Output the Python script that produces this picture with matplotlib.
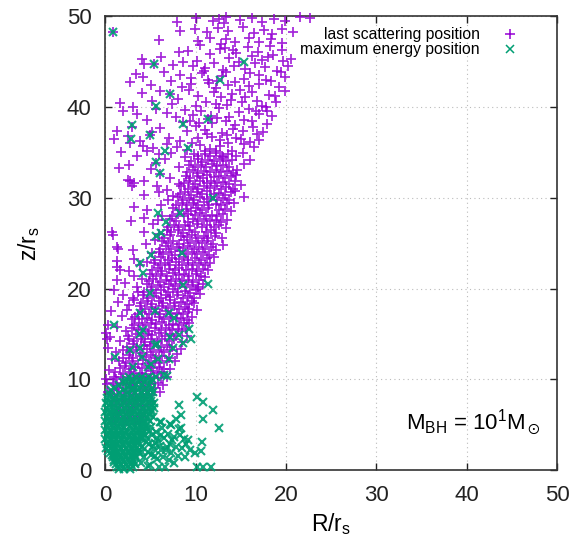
import matplotlib
matplotlib.use("Agg")
import matplotlib.pyplot as plt

plt.rcParams['font.family'] = ['Liberation Sans', 'DejaVu Sans']
plt.rcParams['mathtext.fontset'] = 'custom'
plt.rcParams['mathtext.rm'] = 'Liberation Sans'
plt.rcParams['mathtext.it'] = 'Liberation Sans:italic'
plt.rcParams['mathtext.fallback'] = 'stixsans'

# ---------------- data ----------------
# last scattering position, dense band (R, z)
last_core = [
    (1.1,5.3),(1.9,5.0),(2.4,5.4),(3.3,5.1),(3.8,5.35),
    (0.8,5.7),(1.4,6.0),(2.2,5.75),(2.9,5.95),(3.5,5.6),(4.1,5.9),
    (1.2,6.35),(1.6,6.65),(2.5,6.4),(3.0,6.7),(3.9,6.3),(4.4,6.6),
    (0.7,7.2),(1.5,6.95),(2.0,7.25),(2.8,7.0),(3.4,7.3),(4.1,7.05),(4.7,7.2),
    (1.0,7.6),(1.8,7.85),(2.3,7.55),(3.1,7.8),(3.6,7.6),(4.3,7.9),(5.0,7.65),
    (0.6,8.4),(1.3,8.15),(2.1,8.45),(2.6,8.2),(3.3,8.35),(3.8,8.1),(4.6,8.4),(5.2,8.25),
    (1.0,8.8),(1.5,9.05),(2.3,8.75),(2.9,9.0),(3.4,8.85),(4.2,9.1),(4.8,8.8),(5.5,9.0),
    (0.8,9.6),(1.3,9.35),(2.0,9.65),(2.7,9.4),(3.2,9.55),(3.9,9.3),(4.4,9.7),(5.1,9.45),(5.8,9.6),
    (1.2,10.0),(1.7,10.25),(2.4,9.95),(3.0,10.2),(3.7,10.05),(4.1,10.3),(4.9,10.0),(5.4,10.25),(6.1,10.1),
    (1.1,10.85),(1.9,10.6),(2.6,10.8),(3.2,10.55),(3.8,10.75),(4.5,10.6),(5.0,10.9),(5.7,10.65),(6.3,10.8),
    (1.6,11.2),(2.2,11.45),(2.8,11.15),(3.3,11.4),(4.0,11.25),(4.7,11.5),(5.3,11.2),(5.9,11.35),(6.5,11.15),
    (1.5,12.05),(2.3,11.8),(2.9,12.0),(3.6,11.75),(4.2,12.1),(4.8,11.85),(5.5,12.05),(6.0,11.8),(6.8,12.0),
    (1.9,12.4),(2.6,12.65),(3.1,12.35),(3.8,12.6),(4.5,12.45),(5.1,12.7),(5.6,12.4),(6.3,12.55),(7.0,12.35),
    (2.0,13.25),(2.7,13.0),(3.4,13.2),(4.0,12.95),(4.6,13.3),(5.3,13.05),(5.9,13.25),(6.5,13.0),(7.2,13.2),
    (2.4,13.6),(3.0,13.85),(3.5,13.55),(4.3,13.8),(4.9,13.65),(5.4,13.9),(6.1,13.6),(6.8,13.75),(7.4,13.55),
    (2.6,14.45),(3.2,14.2),(3.9,14.4),(4.4,14.15),(5.1,14.5),(5.7,14.25),(6.3,14.45),(7.0,14.2),(7.6,14.4),
    (2.5,14.8),(3.4,15.05),(4.0,14.75),(4.7,15.0),(5.2,14.85),(5.9,15.1),(6.6,14.8),(7.1,14.95),(7.8,14.75),
    (2.9,15.65),(3.6,15.4),(4.2,15.6),(4.8,15.35),(5.5,15.7),(6.1,15.45),(6.7,15.65),(7.4,15.4),(8.0,15.6),(8.5,15.35),
    (3.2,16.0),(3.7,16.25),(4.4,15.95),(5.1,16.2),(5.6,16.05),(6.3,16.3),(7.0,16.0),(7.5,16.15),(8.2,15.95),(8.7,16.2),
    (3.3,16.85),(4.0,16.6),(4.6,16.8),(5.2,16.55),(5.9,16.9),(6.5,16.65),(7.1,16.85),(7.8,16.6),(8.4,16.8),(9.0,16.55),
    (3.6,17.2),(4.1,17.45),(4.8,17.15),(5.5,17.4),(6.0,17.25),(6.7,17.5),(7.3,17.2),(7.9,17.35),(8.6,17.15),(9.1,17.4),
    (3.8,18.05),(4.4,17.8),(5.0,18.0),(5.6,17.75),(6.3,18.1),(6.9,17.85),(7.6,18.05),(8.1,17.8),(8.8,18.0),(9.3,17.75),
    (3.9,18.4),(4.6,18.65),(5.2,18.35),(5.9,18.6),(6.4,18.45),(7.1,18.7),(7.7,18.4),(8.4,18.55),(9.0,18.35),(9.6,18.6),
    (4.2,19.25),(4.7,19.0),(5.4,19.2),(6.1,18.95),(6.7,19.3),(7.2,19.05),(7.9,19.25),(8.6,19.0),(9.2,19.2),(9.8,18.95),
    (4.3,19.6),(5.0,19.85),(5.6,19.55),(6.2,19.8),(6.9,19.65),(7.5,19.9),(8.0,19.6),(8.8,19.75),(9.4,19.55),(10.0,19.8),
    (4.6,20.45),(5.2,20.2),(5.8,20.4),(6.5,20.15),(7.0,20.5),(7.7,20.25),(8.3,20.45),(8.9,20.2),(9.6,20.4),(10.2,20.15),
    (4.8,20.8),(5.3,21.05),(6.0,20.75),(6.7,21.0),(7.3,20.85),(7.8,21.1),(8.5,20.8),(9.2,20.95),(9.7,20.75),(10.4,21.0),
    (4.9,21.65),(5.6,21.4),(6.2,21.6),(6.8,21.35),(7.5,21.7),(8.1,21.45),(8.7,21.65),(9.3,21.4),(10.0,21.6),(10.6,21.35),
    (5.2,22.0),(5.8,22.25),(6.3,21.95),(7.0,22.2),(7.7,22.05),(8.2,22.3),(8.9,22.0),(9.6,22.15),(10.1,21.95),(10.8,22.2),
    (5.4,22.85),(6.0,22.6),(6.6,22.8),(7.2,22.55),(7.8,22.9),(8.5,22.65),(9.1,22.85),(9.7,22.6),(10.4,22.8),(11.0,22.55),
    (5.5,23.2),(6.2,23.45),(6.9,23.15),(7.4,23.4),(8.1,23.25),(8.7,23.5),(9.2,23.2),(9.9,23.35),(10.6,23.15),(11.2,23.4),
    (5.9,24.05),(6.4,23.8),(7.0,24.0),(7.7,23.75),(8.3,24.1),(8.9,23.85),(9.6,24.05),(10.1,23.8),(10.8,24.0),(11.5,23.75),
    (6.0,24.4),(6.7,24.65),(7.3,24.35),(7.9,24.6),(8.6,24.45),(9.1,24.7),(9.8,24.4),(10.4,24.55),(11.0,24.35),(11.7,24.6),
    (6.3,25.25),(6.9,25.0),(7.5,25.2),(8.2,24.95),(8.7,25.3),(9.4,25.05),(10.0,25.25),(10.7,25.0),(11.3,25.2),(11.9,24.95),
    (6.5,25.6),(7.2,25.85),(8.4,25.8),(9.0,25.65),(9.6,25.9),(10.3,25.6),(10.9,25.75),(11.4,25.55),(12.1,25.8),
    (6.8,26.45),(7.3,26.2),(8.0,26.4),(8.6,26.15),(9.3,26.5),(9.9,26.25),(11.1,26.2),(11.7,26.4),(12.3,26.15),
    (6.9,26.8),(7.6,27.05),(8.2,26.75),(8.8,27.0),(9.4,26.85),(10.1,27.1),(10.7,26.8),(11.3,26.95),(12.0,26.75),(12.6,27.0),
    (7.2,27.65),(7.8,27.4),(9.1,27.35),(9.7,27.7),(10.2,27.45),(10.9,27.65),(11.6,27.4),(12.2,27.6),(12.8,27.35),
    (7.4,28.0),(8.0,28.25),(8.7,27.95),(9.2,28.2),(9.9,28.05),(10.5,28.3),(11.1,28.0),(11.8,28.15),(12.4,27.95),(13.0,28.2),
    (7.5,28.85),(8.2,28.6),(8.9,28.8),(9.5,28.55),(10.0,28.9),(10.7,28.65),(11.4,28.85),(12.6,28.6),(13.2,28.8),
    (7.8,29.2),(8.5,29.45),(9.0,29.15),(9.7,29.4),(10.3,29.25),(10.9,29.5),(11.5,29.2),(12.2,29.35),(12.8,29.15),(13.5,29.4),
    (8.0,30.05),(8.6,29.8),(9.3,30.0),(9.8,29.75),(10.5,30.1),(11.2,29.85),(11.7,30.05),(12.4,29.8),(13.0,30.0),(13.7,29.75),
    (8.3,30.4),(8.8,30.65),(9.5,30.35),(10.1,30.6),(10.7,30.45),(11.3,30.7),(12.0,30.4),(12.6,30.55),(13.2,30.35),(13.9,30.6),
    (8.4,31.25),(9.1,31.0),(9.7,31.2),(10.3,30.95),(10.9,31.3),(11.6,31.05),(12.1,31.25),(12.8,31.0),(13.4,31.2),(14.1,30.95),
    (8.7,31.6),(9.3,31.85),(9.9,31.55),(10.5,31.8),(11.2,31.65),(11.7,31.9),(12.4,31.6),(13.0,31.75),(13.7,31.55),(14.3,31.8),
    (8.9,32.45),(9.4,32.2),(10.1,32.4),(10.8,32.15),(11.3,32.5),(12.0,32.25),(12.6,32.45),(13.2,32.2),(13.9,32.4),
    (9.0,32.8),(9.7,33.05),(10.3,32.75),(10.9,33.0),(11.6,32.85),(12.2,33.1),(12.8,32.8),(13.5,32.95),(14.1,32.75),
    (9.3,33.65),(9.9,33.4),(10.6,33.6),(11.1,33.35),(11.8,33.7),(12.4,33.45),(13.0,33.65),(13.7,33.4),
    (9.5,34.0),(10.2,34.25),(10.7,33.95),(11.4,34.2),(12.0,34.05),(12.7,34.3),(13.3,34.0),(14.0,34.15),
    (9.8,34.85),(10.3,34.6),(11.0,34.8),(11.6,34.55),(12.3,34.9),(12.9,34.65),(13.6,34.85),
]

# last scattering position, scattered points (R, z)
last_sparse = [
    (7.9,49.4),(10.0,49.8),(11.9,49.5),(12.6,49.7),(13.1,49.2),(13.4,49.9),(14.9,49.6),(16.2,49.8),
    (17.3,49.3),(18.7,49.7),(19.9,49.5),(21.5,49.9),(22.6,49.8),
    (0.8,48.3),(8.3,48.4),(9.9,48.6),(11.2,48.2),(12.5,48.7),(13.6,48.4),(15.2,48.8),(16.5,48.1),
    (17.6,48.5),(18.5,48.0),(19.6,48.6),(20.8,48.3),
    (5.9,47.4),(10.3,47.3),(11.6,47.6),(13.3,47.5),(14.4,47.1),(15.9,47.6),(17.0,47.2),(18.3,47.5),(19.6,47.0),
    (8.1,46.0),(9.1,46.2),(10.5,46.8),(12.7,46.4),(12.8,46.9),(14.1,46.3),(15.8,46.6),(16.9,46.1),(18.2,46.7),(19.5,46.3),
    (4.1,45.3),(10.1,45.1),(11.6,45.8),(13.7,45.4),(14.8,45.0),(16.2,45.6),(17.3,45.2),(18.6,45.7),(19.7,45.1),(20.6,45.3),
    (4.3,44.7),(5.4,44.7),(7.5,44.6),(8.6,44.9),(11.0,44.3),(12.0,44.8),(13.0,44.1),(14.2,44.5),(15.5,44.2),
    (16.6,44.8),(17.7,44.4),(19.0,44.0),
    (3.4,43.6),(4.2,43.3),(6.5,43.8),(9.5,43.2),(10.7,43.7),(12.9,43.4),(13.3,43.9),(15.3,43.1),(17.0,43.5),(19.9,43.3),
    (2.7,42.7),(5.0,42.4),(7.3,42.9),(8.5,42.2),(11.5,42.6),(12.3,42.1),(14.4,42.8),(15.9,42.3),(17.0,42.5),
    (18.3,42.9),(19.2,42.2),
    (4.0,41.5),(6.0,41.8),(7.2,41.4),(9.3,41.9),(10.2,41.2),(12.0,41.6),(12.8,41.1),(16.2,41.7),(18.1,41.3),
    (19.9,41.8),(14.0,41.4),
    (1.6,40.4),(3.1,40.0),(5.2,40.7),(7.4,40.3),(8.0,40.9),(11.1,40.5),(13.5,40.2),(13.9,40.8),(15.1,40.6),
    (17.3,40.1),(18.9,40.6),
    (2.0,39.6),(3.5,39.2),(5.6,39.8),(6.8,39.3),(8.8,39.7),(9.7,39.1),(10.6,39.5),(12.6,39.9),(14.8,39.4),
    (15.9,39.8),(17.0,39.2),(17.9,39.6),
    (4.6,38.6),(7.8,38.9),(8.6,38.3),(11.4,38.7),(11.8,38.2),(12.4,38.8),(13.3,38.4),(13.7,38.9),(16.2,38.5),(17.9,38.1),
    (1.3,37.4),(2.9,37.8),(5.2,37.2),(6.0,37.7),(9.0,37.3),(10.0,37.9),(11.0,37.5),(12.9,37.1),(14.1,37.6),
    (15.2,37.3),(16.3,37.8),(17.4,37.2),
    (1.0,36.5),(2.5,36.8),(3.8,36.3),(4.9,36.9),(7.0,36.6),(8.3,36.2),(11.8,36.7),(12.7,36.4),(13.5,36.9),
    (15.0,36.5),(16.0,36.1),
    (2.7,36.0),(4.2,35.7),(5.3,35.5),(6.8,35.9),(7.9,35.6),(9.0,35.3),(10.5,35.8),(11.6,35.4),(12.7,35.7),
    (14.0,35.2),(16.5,35.6),(15.3,35.9),
    (1.7,35.0),(3.5,34.6),(4.6,35.1),(5.9,34.8),(6.6,34.3),(7.3,34.9),(8.8,34.5),(14.5,34.6),(16.0,34.2),(15.2,34.9),
    (1.5,33.3),(2.6,33.6),(5.0,33.2),(5.6,33.8),(8.2,33.4),(14.6,33.1),(15.4,33.7),
    (2.5,32.0),(3.2,31.6),(4.3,31.8),(5.7,31.3),(6.0,32.6),(7.2,32.2),(8.2,31.5),(14.5,32.5),(15.0,31.4),
    (2.7,31.9),(2.9,31.3),
    (4.3,30.3),(5.9,30.6),(6.8,30.9),(7.5,30.2),(14.4,30.7),(15.3,30.1),
    (3.2,29.0),(4.6,28.7),(6.2,29.2),(6.9,29.7),(14.2,29.4),(13.9,28.5),
    (2.8,27.4),(4.3,27.8),(5.3,27.1),(5.8,27.6),(6.3,28.0),(13.5,27.6),(13.3,26.7),
    (0.7,26.2),(0.8,25.9),(4.3,26.2),(5.9,26.0),(5.5,25.4),(12.9,25.6),(13.0,24.8),
    (1.3,24.6),(1.4,24.4),(3.0,24.3),(4.5,24.9),(5.2,23.9),(12.3,24.2),(12.0,23.5),
    (1.3,23.0),(3.2,23.3),(4.6,22.9),(1.3,22.4),(3.8,22.6),(11.6,22.8),(11.4,22.0),
    (1.6,22.1),(2.6,21.9),(3.2,21.4),(1.3,21.0),(2.2,20.6),(3.5,20.2),(4.1,21.1),(11.0,21.3),(10.8,20.5),
    (0.9,19.8),(2.0,19.3),(3.0,19.0),(3.6,19.6),(10.5,19.4),(10.2,20.0),
    (1.4,18.5),(2.6,18.2),(3.2,18.7),(9.8,18.4),(10.1,17.6),
    (0.6,17.5),(1.8,17.0),(2.9,16.6),(2.4,17.6),(9.6,16.9),(9.3,16.2),
    (0.3,16.0),(1.3,15.8),(2.3,15.3),(0.1,15.1),(8.9,15.6),(9.0,14.8),
    (0.5,14.7),(1.6,14.2),(0.2,14.5),(8.5,14.1),(8.4,13.4),
    (0.3,13.5),(1.2,13.0),(0.7,12.3),(7.9,12.8),(7.7,12.0),
    (0.4,11.0),(0.9,10.3),(0.1,10.0),(7.2,11.1),(6.8,10.3),
    (0.2,9.5),(6.4,9.4),(6.0,8.6),(0.3,8.6),
    (10.9,44.0),(11.4,43.0),(12.4,42.9),(13.6,42.4),(14.9,41.9),(15.5,41.1),(16.8,40.7),(17.8,40.0),
    (12.2,40.3),(10.0,40.1),(9.4,38.5),(10.4,38.2),(14.3,38.0),(15.4,38.6),(16.7,39.5),(18.5,39.0),
    (11.3,37.0),(13.6,36.0),(14.5,36.6),(17.0,36.4),(10.2,36.6),(9.6,36.0),(11.0,35.2),(12.3,35.1),
    (13.0,34.5),(16.8,37.0),(18.8,41.2),(19.4,43.8),(20.2,44.5),(18.0,45.5),(14.5,45.9),(13.2,46.5),
    (16.0,43.7),(17.8,43.0),(11.7,39.0),(9.5,42.5),(8.3,43.5),(6.2,45.5),(9.7,44.5),
]

# maximum energy position, dense blob near the origin: rows of (z, [R ...])
maxE_blob_rows = [
    (10.3, [2.6, 3.4, 4.1, 4.8, 5.6]),
    (10.0, [2.3, 3.0, 3.8, 4.5, 5.2]),
    (9.7, [2.0, 2.9, 3.6, 4.3, 5.0]),
    (9.4, [1.5, 2.7, 3.4, 4.1, 4.8]),
    (9.1, [0.9, 2.4, 3.1, 3.8, 4.5, 5.2]),
    (8.8, [0.6, 1.9, 2.9, 3.6, 4.3, 5.0]),
    (8.5, [0.4, 1.5, 2.6, 3.3, 4.0, 4.7]),
    (8.2, [0.5, 1.2, 2.0, 2.8, 3.5, 4.2, 4.9]),
    (7.9, [0.2, 0.9, 1.7, 2.4, 3.0, 3.7, 4.4, 5.1]),
    (7.6, [0.3, 1.0, 1.6, 2.3, 3.0, 3.7, 4.3, 5.0]),
    (7.4, [0.1, 0.6, 1.3, 1.9, 2.7, 3.3, 4.0, 4.7, 5.4]),
    (7.15, [0.4, 1.0, 1.7, 2.4, 3.1, 3.8, 4.5, 5.2]),
    (6.9, [0.2, 0.8, 1.5, 2.2, 2.8, 3.5, 4.2, 4.9]),
    (6.65, [0.3, 1.0, 1.7, 2.3, 3.0, 3.6, 4.3, 5.0]),
    (6.4, [0.0, 0.5, 1.1, 1.8, 2.5, 3.1, 3.8, 4.4, 5.1]),
    (6.15, [0.4, 1.0, 1.6, 2.3, 2.9, 3.6, 4.2, 4.9]),
    (5.9, [0.2, 0.8, 1.4, 2.1, 2.7, 3.3, 4.0, 4.6, 5.3]),
    (5.65, [0.3, 1.0, 1.6, 2.2, 2.9, 3.5, 4.1, 4.7]),
    (5.4, [0.0, 0.5, 1.2, 1.8, 2.4, 3.0, 3.7, 4.3, 4.9]),
    (5.15, [0.4, 1.0, 1.7, 2.3, 2.9, 3.6, 4.2]),
    (4.9, [0.2, 0.8, 1.4, 2.0, 2.7, 3.3, 3.9, 4.5]),
    (4.65, [0.3, 0.9, 1.5, 2.1, 2.8, 3.4, 4.0]),
    (4.4, [0.0, 0.5, 1.1, 1.7, 2.3, 3.0, 3.6, 4.2]),
    (4.15, [0.4, 1.0, 1.6, 2.2, 2.9, 3.5, 4.1]),
    (3.9, [0.2, 0.8, 1.4, 2.0, 2.6, 3.2, 3.8, 4.4]),
    (3.65, [0.3, 0.9, 1.5, 2.1, 2.7, 3.3, 3.9]),
    (3.4, [0.0, 0.5, 1.1, 1.7, 2.3, 2.9, 3.5, 4.1]),
    (3.15, [0.4, 1.0, 1.6, 2.2, 2.9, 3.5]),
    (2.9, [0.2, 0.8, 1.3, 2.0, 2.6, 3.2, 3.8]),
    (2.65, [0.4, 0.9, 1.5, 2.1, 2.7, 3.3]),
    (2.4, [0.1, 0.6, 1.1, 1.7, 2.3, 2.9, 3.5]),
    (2.15, [0.3, 0.8, 1.3, 1.9, 2.5, 3.1, 3.6]),
    (1.9, [0.5, 0.9, 1.4, 2.0, 2.6, 3.2, 3.7]),
    (1.65, [0.7, 1.1, 1.6, 2.2, 2.8, 3.3]),
    (1.4, [0.8, 1.2, 1.7, 2.3, 2.9, 3.4]),
    (1.15, [0.9, 1.4, 1.9, 2.5, 3.1]),
    (0.9, [1.0, 1.5, 2.1, 2.7, 3.2]),
    (0.65, [1.2, 1.7, 2.3, 2.8, 3.3]),
    (0.4, [1.3, 1.9, 2.5, 3.0]),
    (0.15, [1.5, 2.1, 2.7]),
]

# maximum energy position, lobe and scattered points (R, z)
maxE_sparse = [
    (3.8,4.9),(4.4,5.2),(5.0,4.8),(5.6,4.2),(6.3,4.6),(6.9,4.0),(7.6,3.7),(8.3,3.9),(8.9,2.9),
    (3.9,3.8),(4.6,3.5),(5.2,3.9),(5.8,3.2),(6.5,3.5),(7.1,2.9),(7.8,2.6),(8.5,2.4),(9.4,2.2),
    (4.1,2.6),(4.8,2.9),(5.4,2.3),(6.0,2.7),(6.7,2.2),(7.3,1.9),(8.0,1.6),(8.8,1.4),
    (4.3,1.5),(5.1,1.7),(5.7,1.2),(6.4,1.5),(7.0,1.1),(7.6,0.8),(3.9,0.8),(4.7,0.5),(5.9,0.3),
    (6.2,3.9),(7.4,3.3),(5.5,3.0),(4.9,4.3),(3.6,3.0),(4.0,2.0),(9.9,1.9),(8.7,3.4),
    (4.5,3.1),(5.3,2.7),(6.1,2.2),(4.7,2.0),(5.5,1.6),(6.8,2.6),(4.2,4.1),(5.7,3.6),
    (10.1,8.1),(10.8,7.5),(11.9,6.6),(10.8,5.6),(12.6,4.7),(8.1,7.2),(8.4,6.1),(7.8,5.6),(6.1,5.3),
    (7.3,5.0),(8.4,4.6),(9.2,3.3),(10.7,3.1),(10.6,2.1),(5.4,6.9),(6.5,10.5),(10.1,0.4),(10.8,0.4),
    (11.7,0.3),(4.9,0.6),(6.6,0.4),(4.6,4.5),(8.1,4.5),(7.1,5.1),(6.0,5.3),
    (3.8,15.0),(2.7,13.2),(5.7,13.9),(7.0,12.3),(5.1,11.7),(6.8,10.4),(2.3,9.7),(3.1,8.8),(5.3,8.6),(7.1,14.7),
    (4.2,21.7),(11.4,20.5),(8.6,20.4),(4.9,19.5),(3.8,17.3),(5.5,17.5),(7.0,17.3),(7.6,16.8),(0.9,16.0),
    (4.2,15.4),(9.3,15.6),(9.5,14.5),(8.2,14.9),(8.6,14.0),(5.5,13.8),(3.8,13.5),(7.5,13.5),(4.1,12.5),
    (5.8,12.2),(1.1,12.5),(3.1,11.4),(4.7,11.4),
    (0.8,48.3),(5.4,44.7),(15.3,44.9),(12.7,43.0),(7.2,41.4),(5.6,40.1),(2.9,38.0),(4.9,36.9),(8.6,38.1),
    (11.4,38.7),(2.8,36.5),(6.6,35.2),(9.1,35.5),(5.6,33.9),(6.0,32.7),(11.9,30.0),(5.8,28.3),(8.3,28.3),
    (6.7,27.3),(6.1,26.1),(5.6,25.8),(5.0,23.7),(8.5,23.9),(3.8,22.8),
]

series_labels = ["last scattering position", "maximum energy position"]
x_ticks = [0, 10, 20, 30, 40, 50]
y_ticks = [0, 10, 20, 30, 40, 50]

# ---------------- assemble ----------------
R1 = [p[0] for p in last_core + last_sparse]
z1 = [p[1] for p in last_core + last_sparse]
R2, z2 = [], []
for zz, xs in maxE_blob_rows:
    for xx in xs:
        R2.append(xx)
        z2.append(zz)
R2 += [p[0] for p in maxE_sparse]
z2 += [p[1] for p in maxE_sparse]

fig = plt.figure(figsize=(5.76, 5.38), dpi=100)
ax = fig.add_axes([0.183, 0.126, 0.784, 0.844])

purple = '#9400d3'
green = '#009e73'

ax.plot(R1, z1, linestyle='none', marker='+', ms=7, mew=1.25, color=purple,
        alpha=0.85, label=series_labels[0], clip_on=False, zorder=3)
ax.plot(R2, z2, linestyle='none', marker='x', ms=6.3, mew=1.5, color=green,
        alpha=0.9, label=series_labels[1], clip_on=False, zorder=4)

ax.set_xlim(0, 50)
ax.set_ylim(0, 50)
ax.set_xticks(x_ticks)
ax.set_yticks(y_ticks)
ax.tick_params(direction='in', length=5, width=1, top=True, right=True,
               labelsize=16, colors='#222222')
ax.tick_params(axis='x', pad=11)
ax.tick_params(axis='y', pad=10)
ax.grid(True, linestyle=(0, (1, 3)), color='#bbbbbb', linewidth=0.8)
ax.set_axisbelow(True)
for s in ax.spines.values():
    s.set_linewidth(1.2)
    s.set_color('#333333')

ax.set_xlabel(r'R/r$_\mathrm{s}$', fontsize=16.5, labelpad=3)
ax.set_ylabel(r'z/r$_\mathrm{s}$', fontsize=16.5, labelpad=18)

leg = ax.legend(loc='upper right', markerfirst=False, frameon=False,
                fontsize=11.3, labelspacing=0.0, handletextpad=1.2,
                borderaxespad=0.3, handlelength=1.5,
                bbox_to_anchor=(0.947, 1.0))
for h in leg.legend_handles:
    h.set_alpha(1.0)
    h.set_markeredgewidth(1.1)

ax.text(0.965, 0.105, r'M$_\mathrm{BH}$ = 10$^1$M$_\odot$', transform=ax.transAxes,
        ha='right', va='center', fontsize=16)

fig.savefig('out.png', dpi=100)
